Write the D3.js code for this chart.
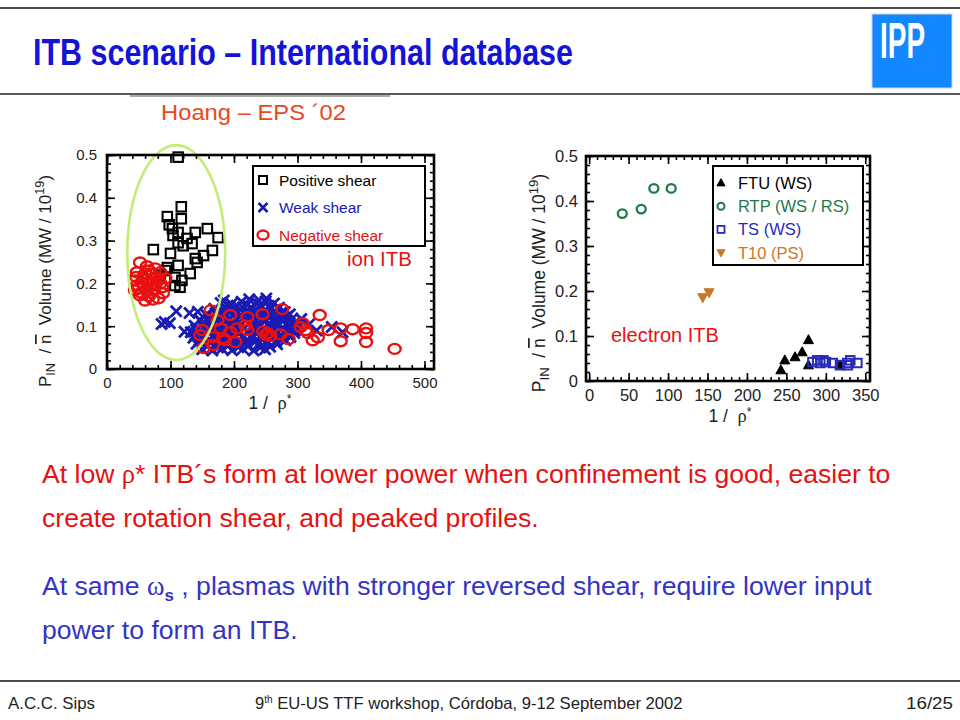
<!DOCTYPE html>
<html>
<head>
<meta charset="utf-8">
<script src="https://cdn.jsdelivr.net/npm/d3@7/dist/d3.min.js"></script>
<style>
  body { margin: 0; background: #fff; }
  svg { display: block; }
</style>
</head>
<body>
<svg id="slide" width="960" height="720"></svg>
<script>
// ---- data ----
// left plot: 1/rho* vs P_IN / n Volume
var positiveShear = [
  [112,0.495],[117,0.379],[95,0.356],[117,0.351],[98,0.337],[103,0.328],[158,0.328],
  [175,0.307],[139,0.319],[112,0.319],[104,0.312],[126,0.305],[112,0.295],[134,0.293],
  [166,0.277],[152,0.265],[139,0.258],[142,0.249],[73,0.279],[100,0.270],[120,0.288],
  [95,0.237],[112,0.242],[131,0.223],[107,0.214],[118,0.207],[115,0.191],[107,0.195],
  [84,0.219],[92,0.230]
];
var weakShear = [
  [109,0.135],[91,0.110],[86,0.105],[99,0.107],[130,0.131],[143,0.134],[122,0.087],[140,0.092],
  [150,0.046],[166,0.043],[181,0.048],[197,0.044],[214,0.047],[231,0.043],[249,0.046],
  [141,0.059],[157,0.057],[173,0.061],[189,0.058],[206,0.060],[221,0.056],[239,0.059],[254,0.062],[268,0.058],
  [136,0.073],[151,0.071],[167,0.074],[183,0.072],[198,0.070],[213,0.075],[228,0.072],[244,0.070],[259,0.074],[274,0.071],[289,0.075],
  [132,0.086],[146,0.088],[161,0.085],[176,0.087],[191,0.084],[205,0.089],[221,0.086],[236,0.083],[251,0.088],[265,0.085],[280,0.087],[295,0.084],
  [138,0.101],[153,0.098],[166,0.102],[181,0.100],[196,0.097],[211,0.102],[227,0.099],[242,0.101],[256,0.098],[271,0.103],[285,0.100],[300,0.097],
  [146,0.115],[160,0.113],[175,0.116],[189,0.112],[204,0.115],[219,0.117],[234,0.113],[249,0.116],[263,0.112],[279,0.115],[292,0.118],
  [156,0.127],[171,0.130],[185,0.126],[200,0.129],[216,0.131],[230,0.127],[245,0.130],[260,0.126],[274,0.131],[288,0.128],
  [169,0.141],[184,0.143],[199,0.140],[214,0.144],[229,0.141],[244,0.145],[258,0.140],[271,0.143],
  [179,0.154],[196,0.152],[212,0.157],[236,0.155],[250,0.158],[263,0.153],
  [184,0.160],[224,0.163],[239,0.161],[251,0.165],
  [158,0.053],[175,0.050],[190,0.054],[207,0.051],[222,0.053],[241,0.050],[257,0.052],
  [145,0.066],[161,0.064],[176,0.068],[192,0.065],[207,0.067],[219,0.064],[236,0.068],[252,0.066],[266,0.064],[281,0.067],
  [139,0.080],[155,0.078],[169,0.081],[184,0.079],[199,0.082],[215,0.078],[229,0.080],[245,0.077],[258,0.081],[273,0.079],[287,0.082],
  [142,0.093],[157,0.095],[171,0.092],[186,0.094],[201,0.091],[216,0.095],[231,0.092],[246,0.094],[261,0.091],[276,0.094],[290,0.092],
  [150,0.108],[164,0.106],[179,0.109],[194,0.107],[209,0.110],[224,0.106],[238,0.108],[254,0.105],[268,0.109],[283,0.107],[297,0.110],
  [163,0.121],[178,0.123],[193,0.120],[208,0.122],[223,0.124],[238,0.120],[253,0.123],[268,0.121],[283,0.122],
  [176,0.135],[191,0.136],[206,0.134],[222,0.137],[237,0.134],[251,0.136],[265,0.135],[280,0.133],
  [190,0.148],[205,0.147],[221,0.150],[241,0.149],[255,0.147],
  [278,0.122],[306,0.117],[330,0.090],[354,0.098],[284,0.083],[371,0.086],[318,0.104],[296,0.090]
];
var negativeShear = [
  // low 1/rho* blob
  [52,0.249],[63,0.240],[76,0.235],[47,0.226],[60,0.223],[71,0.221],[84,0.226],[44,0.207],
  [55,0.202],[68,0.205],[81,0.207],[92,0.212],[49,0.188],[62,0.184],[74,0.186],[87,0.191],
  [52,0.172],[66,0.170],[81,0.165],[60,0.160],[44,0.184],[88,0.177],[76,0.195],[57,0.214],
  [48,0.196],[58,0.193],[70,0.196],[66,0.230],[78,0.214],[54,0.178],[70,0.178],[84,0.200],
  [64,0.210],[46,0.215],[72,0.162],
  // spread at high 1/rho*
  [163,0.137],[194,0.126],[221,0.121],[245,0.128],[276,0.140],[150,0.091],[179,0.095],[194,0.086],
  [205,0.095],[221,0.091],[186,0.067],[202,0.063],[167,0.074],[152,0.049],[167,0.056],[183,0.072],
  [218,0.102],[253,0.084],[246,0.088],[257,0.077],[250,0.080],[273,0.081],[286,0.070],[305,0.098],
  [316,0.084],[324,0.067],[332,0.074],[174,0.114],[147,0.079],[335,0.126],[313,0.091],[349,0.091],
  [368,0.095],[387,0.093],[408,0.095],[408,0.084],[368,0.065],[408,0.063],[453,0.047],[308,0.107]
];
var leftXTicks = [0, 100, 200, 300, 400, 500];
var leftYTicks = [0, 0.1, 0.2, 0.3, 0.4, 0.5];
var leftLegend = ["Positive shear", "Weak shear", "Negative shear"];
// ellipse around the low 1/rho* group: centre x, centre y, half width, half height (data units)
var ionEllipse = [109, 0.272, 77, 0.251];

// right plot
var ftu = [[243,0.024],[248,0.046],[261,0.053],[270,0.064],[278,0.091],[278,0.035],[318,0.035]];
var rtp = [[42,0.372],[66,0.382],[82,0.428],[104,0.428]];
var ts = [[283,0.042],[289,0.046],[297,0.046],[300,0.042],[309,0.040],[318,0.035],[327,0.040],
          [331,0.046],[340,0.040],[328,0.035],[293,0.040]];
var t10 = [[144,0.186],[152,0.197]];
var rightXTicks = [0, 50, 100, 150, 200, 250, 300, 350];
var rightYTicks = [0, 0.1, 0.2, 0.3, 0.4, 0.5];
var rightLegend = ["FTU (WS)", "RTP (WS / RS)", "TS (WS)", "T10 (PS)"];

var BLACK = "#000", BLUE = "#1a1ab4", RED = "#e81010", GREEN = "#1e7a4a", TSBLUE = "#2a2ab8", ORANGE = "#c8782a";
var SANS = "'Liberation Sans', Arial, sans-serif";
var NARROW = "'Liberation Sans Narrow', 'Liberation Sans', Arial, sans-serif";

var svg = d3.select("#slide");
svg.append("rect").attr("width", 960).attr("height", 720).attr("fill", "#fff");

// ---- slide frame ----
svg.append("line").attr("x1", 0).attr("x2", 960).attr("y1", 8).attr("y2", 8)
  .attr("stroke", "#111").attr("stroke-width", 1.5);
svg.append("line").attr("x1", 0).attr("x2", 960).attr("y1", 94).attr("y2", 94)
  .attr("stroke", "#222").attr("stroke-width", 1.5);
svg.append("line").attr("x1", 130).attr("x2", 390).attr("y1", 96).attr("y2", 96)
  .attr("stroke", "#aaa").attr("stroke-width", 2);
svg.append("line").attr("x1", 0).attr("x2", 960).attr("y1", 681).attr("y2", 681)
  .attr("stroke", "#111").attr("stroke-width", 1.5);

svg.append("text").attr("x", 33).attr("y", 65)
  .attr("font-family", NARROW).attr("font-weight", "bold").attr("font-size", 36)
  .attr("fill", "#1414d8").attr("textLength", 540).attr("lengthAdjust", "spacingAndGlyphs")
  .text("ITB scenario \u2013 International database");

// IPP logo
svg.append("rect").attr("x", 872).attr("y", 14).attr("width", 80).attr("height", 74)
  .attr("fill", "#1188ff").attr("stroke", "#c8d4e0").attr("stroke-width", 1);
svg.append("text").attr("x", 880).attr("y", 58)
  .attr("font-family", NARROW).attr("font-weight", "bold").attr("font-size", 50)
  .attr("fill", "#fff").attr("textLength", 45).attr("lengthAdjust", "spacingAndGlyphs")
  .text("IPP");

svg.append("text").attr("x", 161).attr("y", 120)
  .attr("font-family", NARROW).attr("font-size", 22).attr("fill", "#e8481c")
  .attr("textLength", 185).attr("lengthAdjust", "spacingAndGlyphs")
  .text("Hoang \u2013 EPS \u00b402");

// ---- markers ----
function drawSquare(g, cx, cy, s, color, sw) {
  g.append("rect").attr("x", cx - s / 2).attr("y", cy - s / 2).attr("width", s).attr("height", s)
    .attr("fill", "none").attr("stroke", color).attr("stroke-width", sw);
}
function drawCross(g, cx, cy, s, color, sw) {
  g.append("path").attr("d", "M" + (cx - s) + "," + (cy - s) + "L" + (cx + s) + "," + (cy + s) +
    "M" + (cx - s) + "," + (cy + s) + "L" + (cx + s) + "," + (cy - s))
    .attr("stroke", color).attr("stroke-width", sw).attr("fill", "none");
}
function drawRing(g, cx, cy, rx, ry, color, sw) {
  g.append("ellipse").attr("cx", cx).attr("cy", cy).attr("rx", rx).attr("ry", ry)
    .attr("fill", "none").attr("stroke", color).attr("stroke-width", sw);
}
function drawTri(g, cx, cy, s, color, up) {
  var h = s * 0.9, d = up ? -1 : 1;
  g.append("path").attr("d", "M" + cx + "," + (cy + d * h * 0.6) + "L" + (cx - s / 2) + "," + (cy - d * h * 0.4) +
    "L" + (cx + s / 2) + "," + (cy - d * h * 0.4) + "Z").attr("fill", color).attr("stroke", color).attr("stroke-width", 1);
}

// ---- axes frame with inward ticks on all sides ----
function drawAxes(g, x, y, xTicks, yTicks, xMinorStep, yMinorStep, labelPad, fontSize) {
  var x0 = x.range()[0], x1 = x.range()[1], y0 = y.range()[0], y1 = y.range()[1];
  var xd = x.domain(), yd = y.domain();
  var xMinor = d3.range(Math.ceil(xd[0] / xMinorStep) * xMinorStep, xd[1] + 0.001, xMinorStep);
  var yMinor = d3.range(0, yd[1] + 0.0001, yMinorStep);
  var tickStyle = function (sel) {
    sel.select(".domain").remove();
    sel.selectAll("line").attr("stroke", "#000").attr("stroke-width", 1.6);
    sel.selectAll("text").attr("font-family", SANS).attr("font-size", fontSize).attr("fill", "#222");
  };
  [[d3.axisBottom, y0], [d3.axisTop, y1]].forEach(function (a, i) {
    g.append("g").attr("transform", "translate(0," + a[1] + ")")
      .call(a[0](x).tickValues(xMinor).tickSize(-4).tickFormat("")).call(tickStyle);
    g.append("g").attr("transform", "translate(0," + a[1] + ")")
      .call(a[0](x).tickValues(xTicks).tickSize(-8).tickPadding(8)
        .tickFormat(i === 0 ? d3.format("") : "")).call(tickStyle);
  });
  [[d3.axisLeft, x0], [d3.axisRight, x1]].forEach(function (a, i) {
    g.append("g").attr("transform", "translate(" + a[1] + ",0)")
      .call(a[0](y).tickValues(yMinor).tickSize(-4).tickFormat("")).call(tickStyle);
    g.append("g").attr("transform", "translate(" + a[1] + ",0)")
      .call(a[0](y).tickValues(yTicks).tickSize(-8).tickPadding(labelPad)
        .tickFormat(i === 0 ? function (d) { return d === 0 ? "0" : d3.format(".1f")(d); } : "")).call(tickStyle);
  });
  g.append("rect").attr("x", x0).attr("y", y1).attr("width", x1 - x0).attr("height", y0 - y1)
    .attr("fill", "none").attr("stroke", "#000").attr("stroke-width", 2.6);
}

function yTitle(g, cx, cy, fs) {
  var t = g.append("text").attr("transform", "translate(" + cx + "," + cy + ") rotate(-90)")
    .attr("text-anchor", "middle").attr("font-family", SANS).attr("font-size", fs).attr("fill", "#222")
    .attr("xml:space", "preserve");
  t.append("tspan").text("P");
  t.append("tspan").attr("font-size", fs * 0.75).attr("dy", 4).text("IN");
  t.append("tspan").attr("dy", -4).text("  / ");
  t.append("tspan").style("text-decoration", "overline").text("n");
  t.append("tspan").text("  Volume (MW / 10");
  t.append("tspan").attr("font-size", fs * 0.75).attr("dy", -7).text("19");
  t.append("tspan").attr("dy", 7).text(")");
}
function xTitle(g, cx, cy, fs) {
  var t = g.append("text").attr("x", cx).attr("y", cy).attr("text-anchor", "middle")
    .attr("font-family", SANS).attr("font-size", fs).attr("fill", "#222").attr("xml:space", "preserve");
  t.append("tspan").text("1 /  ");
  t.append("tspan").attr("font-family", "'Liberation Serif', serif").attr("font-size", fs + 1).text("\u03c1");
  t.append("tspan").attr("font-size", fs * 0.7).attr("dy", -6).text("*");
}

// ---- left plot ----
var gL = svg.append("g");
var xL = d3.scaleLinear().domain([0, 515]).range([107, 434]);
var yL = d3.scaleLinear().domain([0, 0.5]).range([369, 155]);

positiveShear.forEach(function (d) { drawSquare(gL, xL(d[0]), yL(d[1]), 9.5, BLACK, 2.1); });
weakShear.forEach(function (d) { drawCross(gL, xL(d[0]), yL(d[1]), 5.5, BLUE, 2.8); });
negativeShear.forEach(function (d) { drawRing(gL, xL(d[0]), yL(d[1]), 6, 5, RED, 2.4); });

var kx = (xL.range()[1] - xL.range()[0]) / (xL.domain()[1] - xL.domain()[0]);
var ky = (yL.range()[0] - yL.range()[1]) / (yL.domain()[1] - yL.domain()[0]);
gL.append("ellipse").attr("cx", xL(ionEllipse[0])).attr("cy", yL(ionEllipse[1]))
  .attr("rx", ionEllipse[2] * kx).attr("ry", ionEllipse[3] * ky)
  .attr("fill", "none").attr("stroke", "#c4ec78").attr("stroke-width", 2.6);

drawAxes(gL, xL, yL, leftXTicks, leftYTicks, 20, 0.02, 10, 15);
yTitle(gL, 51, 281, 17);
xTitle(gL, 270, 409, 17.5);

var lgL = gL.append("g");
lgL.append("rect").attr("x", 253).attr("y", 166).attr("width", 172).attr("height", 80)
  .attr("fill", "#fff").attr("stroke", "#000").attr("stroke-width", 2);
var lColors = [BLACK, BLUE, RED];
leftLegend.forEach(function (name, i) {
  var yy = 180 + i * 27.5;
  if (i === 0) drawSquare(lgL, 263, yy, 8, BLACK, 2);
  if (i === 1) drawCross(lgL, 263, yy, 4.5, BLUE, 2.6);
  if (i === 2) drawRing(lgL, 263, yy, 5.5, 4.5, RED, 2.3);
  lgL.append("text").attr("x", 279).attr("y", yy + 5.5).attr("font-family", SANS).attr("font-size", 15.5)
    .attr("fill", lColors[i]).text(name);
});
gL.append("text").attr("x", 347).attr("y", 266).attr("font-family", SANS).attr("font-size", 20.5)
  .attr("fill", RED).text("ion ITB");

// ---- right plot ----
var gR = svg.append("g");
var xR = d3.scaleLinear().domain([-4, 356]).range([586, 870]);
var yR = d3.scaleLinear().domain([0, 0.5]).range([381, 156]);

ftu.forEach(function (d) { drawTri(gR, xR(d[0]), yR(d[1]), 10, BLACK, true); });
ts.forEach(function (d) { drawSquare(gR, xR(d[0]), yR(d[1]), 8.5, TSBLUE, 2); });
rtp.forEach(function (d) { drawRing(gR, xR(d[0]), yR(d[1]), 4.5, 4.3, GREEN, 2.3); });
t10.forEach(function (d) { drawTri(gR, xR(d[0]), yR(d[1]), 10, ORANGE, false); });

drawAxes(gR, xR, yR, rightXTicks, rightYTicks, 10, 0.02, 8, 16.5);
yTitle(gR, 545, 283, 17.5);
xTitle(gR, 730, 422, 17.5);

var lgR = gR.append("g");
lgR.append("rect").attr("x", 713).attr("y", 166).attr("width", 150).attr("height", 99)
  .attr("fill", "#fff").attr("stroke", "#000").attr("stroke-width", 2);
var rColors = [BLACK, GREEN, TSBLUE, ORANGE];
rightLegend.forEach(function (name, i) {
  var yy = 183 + i * 23.2;
  if (i === 0) drawTri(lgR, 721, yy, 8, BLACK, true);
  if (i === 1) drawRing(lgR, 721, yy, 3.5, 3.5, GREEN, 2);
  if (i === 2) drawSquare(lgR, 721, yy, 7, TSBLUE, 1.8);
  if (i === 3) drawTri(lgR, 721, yy, 8, ORANGE, false);
  lgR.append("text").attr("x", 738).attr("y", yy + 6).attr("font-family", SANS).attr("font-size", 16.5)
    .attr("fill", rColors[i]).text(name);
});
gR.append("text").attr("x", 611).attr("y", 342).attr("font-family", SANS).attr("font-size", 20)
  .attr("fill", RED).text("electron ITB");

// ---- body text ----
function bodyLine(parts, y, color) {
  var t = svg.append("text").attr("x", 42).attr("y", y).attr("font-family", SANS)
    .attr("font-size", 26.6).attr("fill", color);
  parts.forEach(function (p) {
    var s = t.append("tspan").text(p.t);
    if (p.greek) s.attr("font-family", "'Liberation Serif', serif");
    if (p.sub) s.attr("font-size", 17).attr("font-weight", "bold").attr("dy", 6);
    if (p.back) s.attr("dy", -6);
  });
}
bodyLine([{t: "At low "}, {t: "\u03c1", greek: true}, {t: "* ITB\u00b4s form at lower power when confinement is good, easier to"}], 483, RED);
bodyLine([{t: "create rotation shear, and peaked profiles."}], 527, RED);
bodyLine([{t: "At same "}, {t: "\u03c9", greek: true}, {t: "s", sub: true}, {t: " , plasmas with stronger reversed shear, require lower input", back: true}], 595, "#3434c4");
bodyLine([{t: "power to form an ITB."}], 639, "#3434c4");

// ---- footer ----
var foot = svg.append("g").attr("font-family", NARROW).attr("font-size", 16.5).attr("fill", "#222");
foot.append("text").attr("x", 8).attr("y", 709).attr("textLength", 87).attr("lengthAdjust", "spacingAndGlyphs")
  .text("A.C.C. Sips");
var mid = foot.append("text").attr("x", 255).attr("y", 709);
mid.append("tspan").text("9");
mid.append("tspan").attr("font-size", 10).attr("dy", -6).text("th");
mid.append("tspan").attr("dy", 6).attr("textLength", 410).attr("lengthAdjust", "spacingAndGlyphs")
  .text(" EU-US TTF  workshop, C\u00f3rdoba, 9-12 September 2002");
foot.append("text").attr("x", 953).attr("y", 709).attr("text-anchor", "end")
  .attr("textLength", 47).attr("lengthAdjust", "spacingAndGlyphs").text("16/25");
</script>
</body>
</html>
